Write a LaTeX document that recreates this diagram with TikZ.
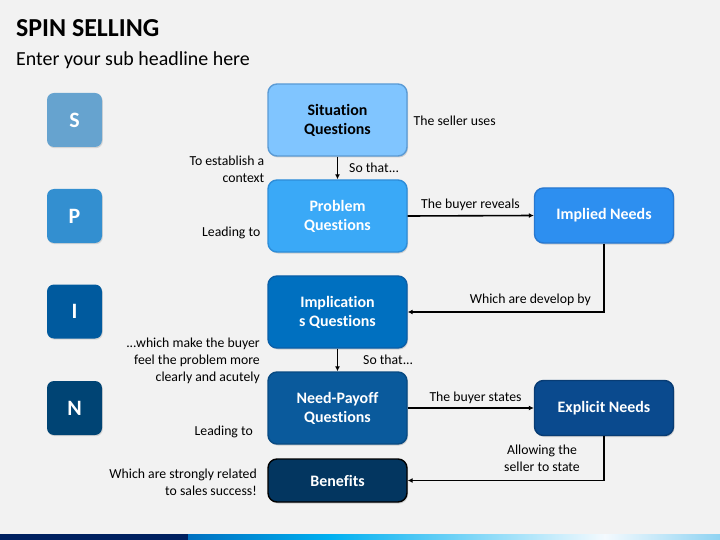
\documentclass[tikz,border=0pt]{standalone}
\usepackage{fontspec}
\setmainfont[Ligatures=NoCommon]{Carlito}
\usetikzlibrary{shadows,arrows.meta}
\definecolor{bg}{HTML}{F2F2F2}
\definecolor{cS}{HTML}{66A3CF}
\definecolor{cP}{HTML}{338FD0}
\definecolor{cI}{HTML}{005A9E}
\definecolor{cN}{HTML}{004474}
\definecolor{fSit}{HTML}{80C5FF}
\definecolor{bSit}{HTML}{5B9BD5}
\definecolor{fProb}{HTML}{3AA9F7}
\definecolor{bProb}{HTML}{2E8DD8}
\definecolor{fImp}{HTML}{0070C0}
\definecolor{bImp}{HTML}{0A5FA8}
\definecolor{fNeed}{HTML}{0A5A9C}
\definecolor{bNeed}{HTML}{084A82}
\definecolor{fBen}{HTML}{033660}
\definecolor{fImpl}{HTML}{2D8FF0}
\definecolor{bImpl}{HTML}{2878D0}
\definecolor{fExp}{HTML}{0A4A8E}
\definecolor{bExp}{HTML}{083C74}
\definecolor{navy}{HTML}{002060}
\definecolor{barA}{HTML}{0070C0}
\definecolor{barB}{HTML}{00B0F0}
\definecolor{barC}{HTML}{F4FAFE}
\definecolor{barD}{HTML}{8FD3F2}
\tikzset{
  letterbox/.style={rounded corners=7bp, minimum width=55bp, minimum height=54bp, text=white,
    font=\fontsize{22}{24}\selectfont\bfseries,
    drop shadow={opacity=0.25, shadow xshift=0.8bp, shadow yshift=-1.2bp}},
  mainbox/.style={rounded corners=9bp, minimum width=139bp, minimum height=72bp, line width=1.4bp,
    align=center, text=white, font=\fontsize{16}{19}\selectfont\bfseries,
    drop shadow={opacity=0.3, shadow xshift=1bp, shadow yshift=-1.5bp}},
  lbl/.style={font=\fontsize{13.8}{17}\selectfont, text=black, inner sep=0pt},
  conn/.style={line width=1.6bp, -{Latex[length=5bp,width=5bp]}}
}
\begin{document}
\begin{tikzpicture}[x=1bp,y=-1bp]
\fill[bg] (0,0) rectangle (720,540);
\useasboundingbox (0,0) rectangle (720,540);
% title
\node[anchor=base west, inner sep=0pt, font=\fontsize{26}{30}\selectfont\bfseries] (title) at (16,37) {SPIN SELLING};
\node[anchor=base west, inner sep=0pt, font=\fontsize{20}{24}\selectfont] (sub) at (16,66) {Enter your sub headline here};
% letter boxes
\node[letterbox, fill=cS] (S) at (74.5,120) {S};
\node[letterbox, fill=cP] (P) at (74.5,216) {P};
\node[letterbox, fill=cI] (I) at (74.5,311.5) {I};
\node[letterbox, fill=cN] (N) at (74.5,408) {N};
% main boxes
\node[mainbox, fill=fSit, draw=bSit, text=black] (sit) at (337.5,120) {Situation\\Questions};
\node[mainbox, fill=fProb, draw=bProb] (prob) at (337.5,216) {Problem\\Questions};
\node[mainbox, fill=fImp, draw=bImp] (implic) at (337.5,312) {Implication\\s Questions};
\node[mainbox, fill=fNeed, draw=bNeed] (need) at (337.5,408) {Need-Payoff\\Questions};
\node[mainbox, fill=fBen, draw=black, minimum height=43bp] (ben) at (337.5,480.5) {Benefits};
\node[mainbox, fill=fImpl, draw=bImpl, minimum height=55bp] (impl) at (604,215.5) {Implied Needs};
\node[mainbox, fill=fExp, draw=bExp, minimum height=55bp] (exp) at (604,408) {Explicit Needs};
% connectors
\draw[conn] (sit.south) -- (prob.north);
\draw[conn] (prob.east) -- (impl.west);
\draw[conn] (impl.south) |- (implic.east);
\draw[conn] (implic.south) -- (need.north);
\draw[conn] (need.east) -- (exp.west);
\draw[conn] (exp.south) |- (ben.east);
% connector labels
\node[lbl, anchor=west] (l1) at (349,168) {So that...};
\node[lbl] (l2) at (470.5,204.5) {The buyer reveals};
\node[lbl, anchor=east] (l3) at (591,299.5) {Which are develop by};
\node[lbl, anchor=west] (l4) at (363,360) {So that...};
\node[lbl] (l5) at (475.5,397.5) {The buyer states};
\node[lbl, align=center] (l6) at (542,458) {Allowing the\\seller to state};
% side labels
\node[lbl, anchor=west] (r1) at (413.5,120.5) {The seller uses};
\node[lbl, anchor=east, align=right] (s1) at (264.5,169) {To establish a\\context};
\node[lbl, anchor=east] (s2) at (260.5,232.5) {Leading to};
\node[lbl, anchor=east, align=right] (s3) at (260,360.5) {...which make the buyer\\feel the problem more\\clearly and acutely};
\node[lbl, anchor=east] (s4) at (253,431.5) {Leading to};
\node[lbl, anchor=east, align=right] (s5) at (257,482.5) {Which are strongly related\\to sales success!};
% bottom bar
\fill[navy] (0,534) rectangle (188,540);
\shade[left color=barA, right color=barB] (188,534) rectangle (330,540);
\shade[left color=barB, right color=barC] (329.5,534) rectangle (605,540);
\shade[left color=barC, right color=barD] (604.5,534) rectangle (720,540);
\end{tikzpicture}
\end{document}
